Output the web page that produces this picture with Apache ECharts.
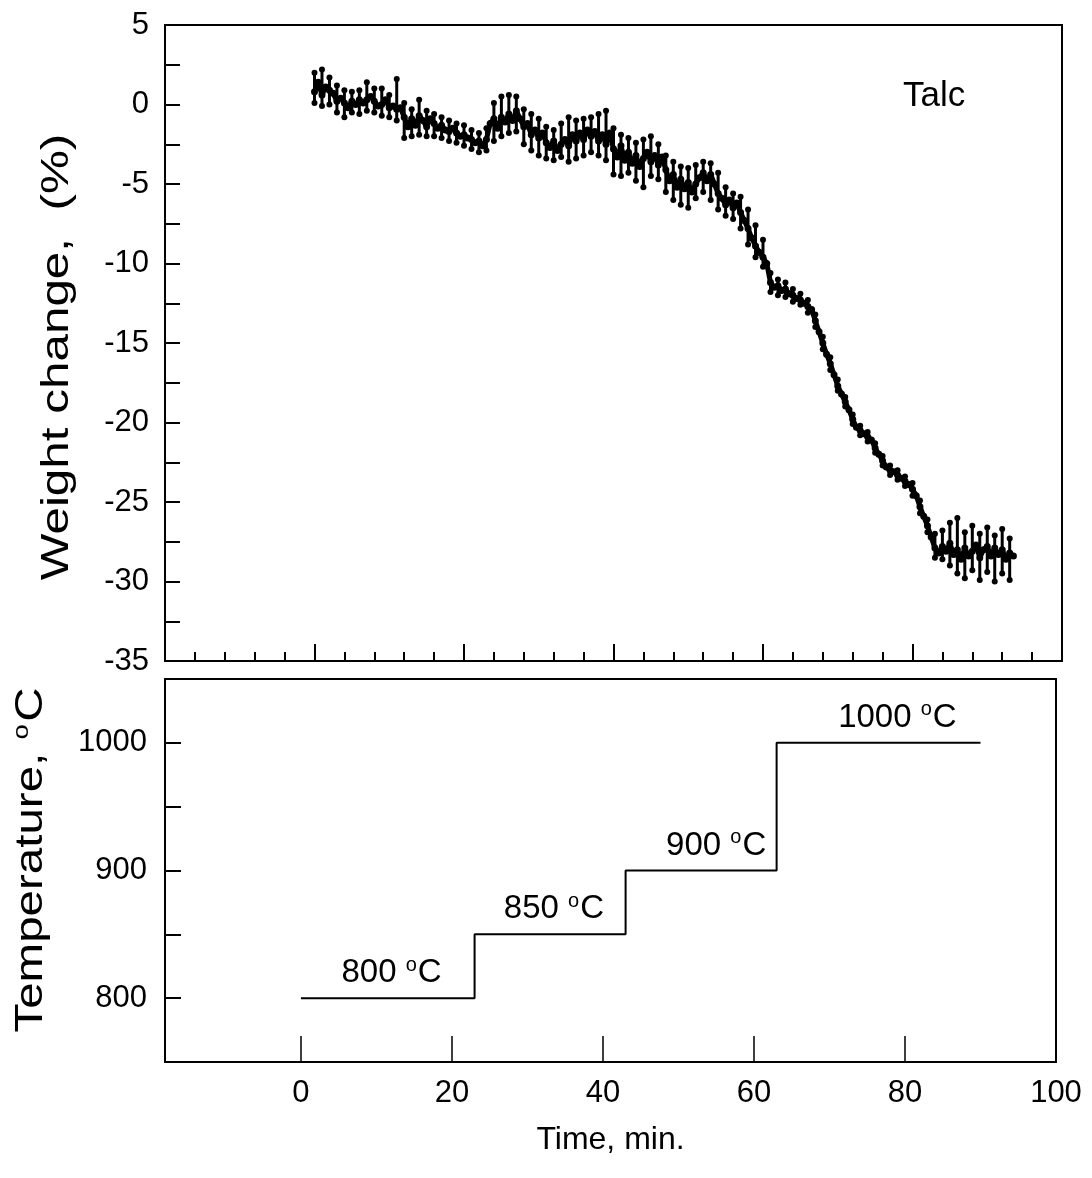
<!DOCTYPE html>
<html>
<head>
<meta charset="utf-8">
<script src="https://cdn.jsdelivr.net/npm/echarts@6/dist/echarts.min.js"></script>
<style>
  html, body { margin: 0; padding: 0; background: #fff; }
  #chart { width: 1092px; height: 1178px; }
</style>
</head>
<body>
<div id="chart"></div>
<script>
// ---------- DATA ----------
// Weight change (%) vs time (min), sampled every 0.5 min (central trace)
const midTimes = [0,0.5,1,1.5,2,2.5,3,3.5,4,4.5,5,5.5,6,6.5,7,7.5,8,8.5,9,9.5,
  10,10.5,11,11.5,12,12.5,13,13.5,14,14.5,15,15.5,16,16.5,17,17.5,18,18.5,19,19.5,
  20,20.5,21,21.5,22,22.5,23,23.5,24,24.5,25,25.5,26,26.5,27,27.5,28,28.5,29,29.5,
  30,30.5,31,31.5,32,32.5,33,33.5,34,34.5,35,35.5,36,36.5,37,37.5,38,38.5,39,39.5,
  40,40.5,41,41.5,42,42.5,43,43.5,44,44.5,45,45.5,46,46.5,47,47.5,48,48.5,49,49.5,
  50,50.5,51,51.5,52,52.5,53,53.5,54,54.5,55,55.5,56,56.5,57,57.5,58,58.5,59,59.5,
  60,60.5,61,61.5,62,62.5,63,63.5,64,64.5,65,65.5,66,66.5,67,67.5,68,68.5,69,69.5,
  70,70.5,71,71.5,72,72.5,73,73.5,74,74.5,75,75.5,76,76.5,77,77.5,78,78.5,79,79.5,
  80,80.5,81,81.5,82,82.5,83,83.5,84,84.5,85,85.5,86,86.5,87,87.5,88,88.5,89,89.5,
  90,90.5,91,91.5,92,92.5,93,93.5];
const weightMid = [0.8,1.4,0.6,1.1,0.9,0.7,0.2,0.4,0.1,-0.2,0.2,0.0,0.3,0.1,0.3,0.5,0.2,-0.1,0.0,0.3,
  -0.2,-0.1,-0.3,-0.2,-0.8,-1.4,-0.9,-1.3,-0.7,-1.0,-1.4,-0.9,-1.2,-1.5,-1.3,-1.6,-1.7,-1.5,-1.8,-2.0,
  -1.9,-2.1,-2.2,-2.4,-2.3,-2.6,-2.2,-1.2,-0.9,-1.5,-0.8,-1.1,-0.6,-1.0,-0.4,-0.9,-1.4,-1.2,-1.9,-1.6,
  -2.1,-1.8,-2.4,-2.7,-2.3,-2.9,-2.5,-2.2,-2.6,-1.9,-2.3,-1.8,-2.2,-1.6,-2.0,-1.7,-2.3,-1.9,-2.5,-1.8,
  -2.8,-3.3,-2.6,-3.5,-3.0,-3.7,-3.2,-3.9,-3.4,-3.0,-3.6,-3.2,-3.8,-3.3,-4.1,-4.8,-4.4,-5.2,-4.7,-5.3,
  -4.9,-5.5,-5.0,-4.6,-4.3,-4.8,-4.4,-5.0,-5.6,-5.9,-6.3,-6.0,-6.5,-6.2,-6.8,-7.3,-7.8,-8.4,-8.9,-9.3,
  -9.6,-10.0,-11.2,-11.5,-11.4,-11.7,-11.6,-11.9,-12.0,-12.2,-12.3,-12.5,-12.7,-12.9,-13.6,-14.3,-15.0,-15.7,-16.3,-17.0,
  -17.7,-18.2,-18.7,-19.2,-19.8,-20.3,-20.5,-20.7,-20.9,-21.1,-21.6,-22.0,-22.4,-22.8,-23.0,-23.1,-23.3,-23.5,-23.7,-23.9,
  -24.2,-24.6,-25.3,-25.9,-26.5,-27.2,-27.9,-28.2,-27.8,-28.1,-27.6,-28.3,-28.0,-28.6,-27.9,-28.4,-28.1,-27.7,-28.5,-28.0,
  -27.8,-28.4,-27.9,-28.3,-28.0,-28.6,-28.2,-28.4];
// Upper / lower scatter of the noisy readings, sampled every 1 min
const spreadTimes = [0,1,2,3,4,5,6,7,8,9,10,11,12,13,14,15,16,17,18,19,
  20,21,22,23,24,25,26,27,28,29,30,31,32,33,34,35,36,37,38,39,
  40,41,42,43,44,45,46,47,48,49,50,51,52,53,54,55,56,57,58,59,
  60,61,62,63,64,65,66,67,68,69,70,71,72,73,74,75,76,77,78,79,
  80,81,82,83,84,85,86,87,88,89,90,91,92,93];
const weightHigh = [2.0,2.2,1.7,1.2,0.9,0.8,0.9,1.4,1.0,1.0,0.6,1.6,0.1,-0.3,0.3,-0.4,-0.6,-0.8,-1.0,-1.2,
  -1.3,-1.6,-1.8,-1.5,0.1,0.5,0.6,0.5,-0.3,-0.6,-0.9,-1.4,-1.6,-1.2,-0.8,-1.0,-0.9,-0.8,-0.6,-0.4,
  -1.5,-1.9,-2.1,-2.4,-2.2,-2.0,-2.5,-3.2,-3.6,-3.9,-4.0,-3.8,-3.6,-3.7,-4.3,-5.2,-5.6,-5.8,-6.6,-7.6,
  -8.5,-10.6,-11.0,-11.2,-11.6,-11.9,-12.3,-13.2,-14.6,-15.9,-17.3,-18.4,-19.5,-20.2,-20.6,-21.3,-22.1,-22.7,-23.0,-23.4,
  -23.8,-24.9,-26.1,-27.0,-26.8,-26.3,-26.0,-26.9,-26.5,-27.0,-26.6,-27.1,-26.7,-27.3];
const weightLow = [0.1,-0.1,0.0,-0.5,-0.8,-0.5,-0.6,-0.4,-0.5,-0.7,-0.8,-1.0,-2.1,-2.0,-1.9,-2.0,-2.0,-2.1,-2.3,-2.4,
  -2.6,-2.8,-3.0,-2.9,-2.3,-2.0,-1.8,-1.7,-2.5,-2.9,-3.2,-3.4,-3.5,-3.3,-3.6,-3.4,-3.2,-3.0,-3.2,-3.5,
  -4.4,-4.5,-4.3,-4.8,-5.2,-4.5,-4.7,-5.5,-6.0,-6.3,-6.5,-5.9,-5.5,-6.0,-6.6,-7.0,-7.2,-7.8,-8.8,-9.6,
  -10.2,-11.8,-12.0,-12.1,-12.4,-12.6,-13.1,-14.0,-15.4,-16.7,-18.0,-19.0,-20.1,-20.8,-21.2,-21.9,-22.7,-23.3,-23.6,-24.0,
  -24.6,-25.7,-26.9,-28.5,-28.6,-29.0,-29.5,-29.8,-29.3,-29.9,-29.4,-30.0,-29.5,-29.9];

// Temperature program (step changes)
const stepTimes = [0, 23, 43, 63, 90];
const stepTemps = [800, 850, 900, 1000, 1000];
const tempLabelTemps = [800, 850, 900, 1000];
const tempLabelTimes = [12, 33.5, 55, 79];
const tempLabelTexts = ['800', '850', '900', '1000'];

// Tick labels
const weightTicks = [5, 0, -5, -10, -15, -20, -25, -30, -35];
const tempTicks = [800, 900, 1000];
const timeTicks = [0, 20, 40, 60, 80, 100];

// ---------- CHART ----------
const FONT = '"Liberation Sans", Arial, Helvetica, sans-serif';
const chart = echarts.init(document.getElementById('chart'), null, { renderer: 'canvas' });

const pair = (xs, ys) => xs.map((x, i) => [x, ys[i]]);

const axisCommon = {
  axisLine: { show: true, onZero: false, lineStyle: { color: '#000', width: 2 } },
  splitLine: { show: false }
};
const labelStyle = { color: '#000', fontSize: 31, fontFamily: FONT };

const option = {
  backgroundColor: '#fff',
  animation: false,
  grid: [
    { left: 165, top: 25, width: 897, height: 636, show: true, borderColor: '#000', borderWidth: 2, backgroundColor: 'transparent' },
    { left: 165, top: 679, width: 891, height: 383, show: true, borderColor: '#000', borderWidth: 2, backgroundColor: 'transparent' }
  ],
  xAxis: [
    Object.assign({}, axisCommon, {
      type: 'value', gridIndex: 0, min: -20, max: 100, interval: 20,
      axisTick: { show: true, inside: true, length: 17, lineStyle: { color: '#000', width: 2 } },
      minorTick: { show: true, splitNumber: 5, length: 9, lineStyle: { color: '#000', width: 2 } },
      axisLabel: { show: false }
    }),
    Object.assign({}, axisCommon, {
      type: 'value', gridIndex: 1, min: -18, max: 100,
      axisTick: { show: true, inside: true, length: 26, customValues: timeTicks, lineStyle: { color: '#000', width: 1.5 } },
      axisLabel: Object.assign({}, labelStyle, { margin: 16, customValues: timeTicks, formatter: v => String(v) }),
      name: 'Time, min.', nameLocation: 'middle', nameGap: 62,
      nameTextStyle: { color: '#000', fontSize: 32, fontFamily: FONT }
    })
  ],
  yAxis: [
    Object.assign({}, axisCommon, {
      type: 'value', gridIndex: 0, min: -35, max: 5, interval: 5,
      axisTick: { show: true, inside: true, length: 15, lineStyle: { color: '#000', width: 2 } },
      minorTick: { show: true, splitNumber: 2, length: 15, lineStyle: { color: '#000', width: 2 } },
      axisLabel: Object.assign({}, labelStyle, { margin: 16, customValues: weightTicks, formatter: v => String(v) })
    }),
    Object.assign({}, axisCommon, {
      type: 'value', gridIndex: 1, min: 750, max: 1050, interval: 50,
      axisTick: { show: true, inside: true, length: 16, lineStyle: { color: '#000', width: 2 } },
      axisLabel: Object.assign({}, labelStyle, { margin: 18, customValues: tempTicks, formatter: v => String(v) })
    })
  ],
  graphic: [
    { type: 'text', left: 903, top: 79, style: { text: 'Talc', fontSize: 35, fontFamily: FONT, fill: '#000' } },
    {
      type: 'text', x: 58, y: 357, rotation: Math.PI / 2, scaleX: 1.3,
      style: { text: 'Weight change,  (%)', fontSize: 38, fontFamily: FONT, fill: '#000', align: 'center', verticalAlign: 'middle' }
    },
    {
      type: 'text', x: 32, y: 860, rotation: Math.PI / 2, scaleX: 1.25,
      style: {
        text: '{a|Temperature, }{s|o}{a|C}', fontFamily: FONT, fill: '#000', align: 'center', verticalAlign: 'middle',
        rich: {
          a: { fontSize: 38, fontFamily: FONT, fill: '#000', lineHeight: 42 },
          s: { fontSize: 22, fontFamily: FONT, fill: '#000', verticalAlign: 'top', lineHeight: 42, padding: [0, 2, 16, 0] }
        }
      }
    }
  ],
  series: [
    {
      // vertical streaks of the noisy readings (from lower to upper reading)
      type: 'custom', xAxisIndex: 0, yAxisIndex: 0,
      data: spreadTimes.map((t, i) => [t, weightLow[i], weightHigh[i]]),
      renderItem: function (params, api) {
        const p1 = api.coord([api.value(0), api.value(1)]);
        const p2 = api.coord([api.value(0), api.value(2)]);
        return {
          type: 'rect',
          shape: { x: p1[0] - 1.5, y: p2[1], width: 3, height: p1[1] - p2[1] },
          style: { fill: '#000' }
        };
      },
      z: 2
    },
    {
      type: 'line', xAxisIndex: 0, yAxisIndex: 0,
      data: pair(midTimes, weightMid),
      showSymbol: true, symbol: 'circle', symbolSize: 7,
      itemStyle: { color: '#000', opacity: 1 },
      lineStyle: { color: '#000', width: 5 },
      z: 3
    },
    {
      type: 'scatter', xAxisIndex: 0, yAxisIndex: 0,
      data: pair(spreadTimes, weightHigh),
      symbol: 'circle', symbolSize: 6, itemStyle: { color: '#000', opacity: 1 }, z: 3
    },
    {
      type: 'scatter', xAxisIndex: 0, yAxisIndex: 0,
      data: pair(spreadTimes, weightLow),
      symbol: 'circle', symbolSize: 6, itemStyle: { color: '#000', opacity: 1 }, z: 3
    },
    {
      type: 'line', xAxisIndex: 1, yAxisIndex: 1,
      data: pair(stepTimes, stepTemps),
      step: 'end', showSymbol: false,
      lineStyle: { color: '#000', width: 2 }
    },
    {
      type: 'scatter', xAxisIndex: 1, yAxisIndex: 1,
      data: tempLabelTimes.map((t, i) => ({ value: [t, tempLabelTemps[i]], name: tempLabelTexts[i] })),
      symbolSize: 0,
      itemStyle: { opacity: 1, color: '#000' },
      label: {
        show: true, position: 'top', distance: 7, color: '#000', opacity: 1,
        formatter: p => '{n|' + p.name + ' }{s|o}{n|C}',
        rich: {
          n: { fontSize: 33, fontFamily: FONT, color: '#000', lineHeight: 36 },
          s: { fontSize: 20, fontFamily: FONT, color: '#000', verticalAlign: 'top', lineHeight: 36, padding: [0, 1, 13, 0] }
        }
      }
    }
  ]
};
chart.setOption(option);
</script>
</body>
</html>
